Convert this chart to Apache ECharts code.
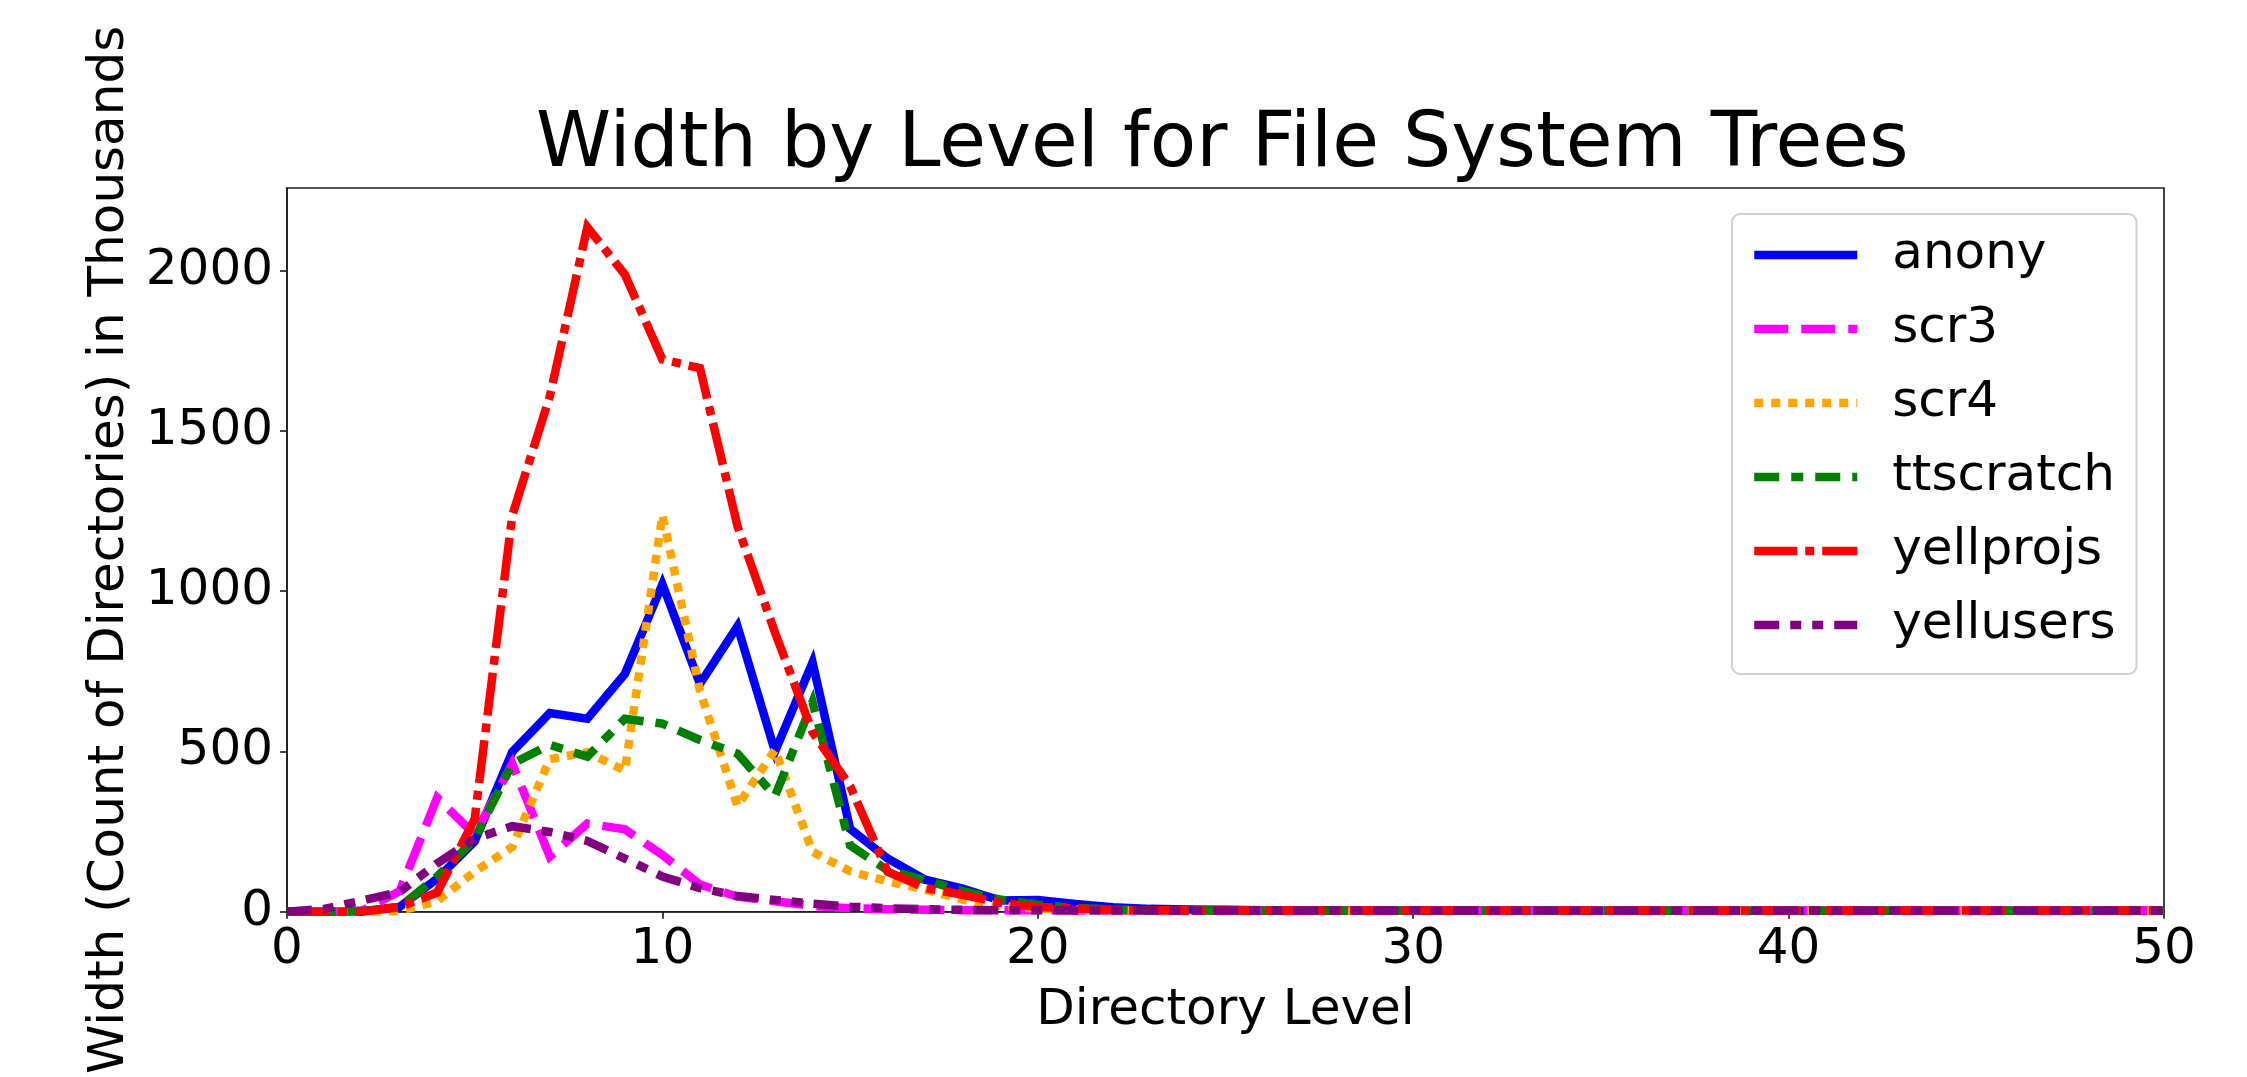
<!DOCTYPE html>
<html>
<head>
<meta charset="utf-8">
<script src="https://cdn.jsdelivr.net/npm/echarts@6/dist/echarts.min.js"></script>
<style>
html,body{margin:0;padding:0;background:#fff;}
#chart{width:2247px;height:1077px;}
</style>
</head>
<body>
<div id="chart"></div>
<script>
// Directory levels 0..50
const levels = [];
for (let i = 0; i <= 50; i++) levels.push(i);

const seriesNames = ['anony', 'scr3', 'scr4', 'ttscratch', 'yellprojs', 'yellusers'];

// Width (count of directories) in thousands, per level 0..50
const anony = [0, 0, 2, 15, 103, 220, 499, 620, 602, 742, 1022, 711, 891, 500, 778, 259, 166, 100, 72, 35, 37, 24, 14, 9, 7, 6,
  5, 5, 5, 5, 5, 4, 4, 4, 4, 4, 4, 4, 3, 3, 3, 3, 3, 3, 3, 3, 3, 3, 3, 3, 3];
const scr3 = [0, 0, 3, 64, 356, 240, 462, 172, 275, 257, 177, 85, 47, 33, 18, 11, 8, 6, 5, 5, 5, 4, 4, 4, 4, 4,
  4, 4, 4, 4, 4, 4, 4, 4, 4, 4, 4, 4, 4, 4, 4, 4, 4, 4, 4, 4, 4, 4, 4, 4, 4];
const scr4 = [0, 0, 0, 2, 33, 125, 202, 476, 498, 440, 1238, 690, 330, 505, 187, 126, 95, 69, 38, 18, 10, 7, 5, 4, 4, 3,
  3, 3, 3, 3, 3, 3, 3, 3, 3, 3, 3, 3, 3, 3, 3, 3, 3, 3, 3, 3, 3, 3, 3, 3, 3];
const ttscratch = [0, 0, 2, 15, 110, 226, 462, 521, 484, 602, 587, 536, 493, 361, 654, 207, 129, 99, 64, 38, 22, 12, 7, 5, 4, 4,
  3, 3, 3, 3, 3, 3, 3, 3, 3, 3, 3, 3, 3, 3, 3, 3, 3, 3, 3, 3, 3, 3, 3, 3, 3];
const yellprojs = [0, 0, 0, 15, 60, 290, 1236, 1608, 2136, 1988, 1723, 1696, 1203, 871, 560, 392, 125, 74, 53, 28, 15, 10, 6, 5, 4, 4,
  4, 4, 4, 4, 4, 4, 4, 4, 4, 4, 4, 4, 4, 4, 4, 4, 4, 4, 4, 4, 4, 4, 4, 4, 4];
const yellusers = [0, 9, 35, 62, 151, 228, 267, 249, 221, 166, 110, 74, 49, 37, 25, 16, 11, 8, 6, 5, 5, 4, 4, 4, 4, 4,
  4, 4, 4, 4, 4, 4, 4, 4, 4, 4, 4, 4, 4, 4, 4, 4, 4, 4, 4, 4, 4, 4, 4, 4, 4];

const xTicks = [0, 10, 20, 30, 40, 50];
const yTicks = [0, 500, 1000, 1500, 2000];

const values = [anony, scr3, scr4, ttscratch, yellprojs, yellusers];
const colors = ['#0000ff', '#ff00ff', '#ffa500', '#008000', '#ff0000', '#800080'];
const dashes = ['solid', [34, 13], [9, 8], [25, 12, 12, 12], [43, 8, 9, 8], [25, 11, 11, 11, 11, 11]];
const LW = 8.5;
const FONT = 'DejaVu Sans';

const chart = echarts.init(document.getElementById('chart'), null, {renderer: 'canvas'});

const series = seriesNames.map((name, i) => ({
  name: name,
  type: 'line',
  data: levels.map((lv, j) => [lv, values[i][j]]),
  symbol: 'none',
  showSymbol: false,
  clip: true,
  lineStyle: {color: colors[i], width: LW, type: dashes[i], cap: 'butt', join: 'miter'},
  itemStyle: {color: colors[i]},
  emphasis: {disabled: true},
  animation: false
}));

const option = {
  animation: false,
  backgroundColor: '#ffffff',
  title: {
    text: 'Width by Level for File System Trees',
    left: 536,
    top: 108,
    padding: 0,
    textStyle: {fontFamily: FONT, fontSize: 76, fontWeight: 'normal', color: '#000', lineHeight: 76}
  },
  grid: {
    left: 287, right: 83, top: 188, bottom: 156,
    show: true, borderColor: '#222', borderWidth: 1.7, backgroundColor: 'transparent'
  },
  legend: {
    orient: 'vertical',
    left: 1732,
    top: 214,
    padding: [14, 21, 22, 18],
    itemWidth: 103,
    itemHeight: 20,
    itemGap: 20,
    backgroundColor: 'rgba(255,255,255,0.8)',
    borderColor: '#d0d0d0',
    borderWidth: 2,
    borderRadius: 8,
    selectedMode: false,
    data: seriesNames.map((n, i) => ({
      name: n,
      lineStyle: {color: colors[i], width: LW, type: dashes[i], cap: 'butt'},
      itemStyle: {opacity: 0, color: 'rgba(0,0,0,0)', borderWidth: 0}
    })),
    itemStyle: {opacity: 0, color: 'rgba(0,0,0,0)', borderWidth: 0},
    lineStyle: {width: LW},
    textStyle: {fontFamily: FONT, fontSize: 50, color: '#000', lineHeight: 54, padding: [0, 0, 0, 30]}
  },
  xAxis: {
    type: 'value',
    min: 0, max: 50, interval: 10,
    name: 'Directory Level',
    nameLocation: 'middle',
    nameGap: 74,
    nameTextStyle: {fontFamily: FONT, fontSize: 50, color: '#000', lineHeight: 50},
    axisLine: {show: true, onZero: false, lineStyle: {color: '#222', width: 1.7}},
    axisTick: {show: true, inside: false, length: 7, lineStyle: {color: '#222', width: 1.7}},
    axisLabel: {
      fontFamily: FONT, fontSize: 50, color: '#000', margin: 13, lineHeight: 50,
      formatter: v => (xTicks.indexOf(v) >= 0 ? String(v) : '')
    },
    splitLine: {show: false}
  },
  yAxis: {
    type: 'value',
    min: 0, max: 2258, interval: 500,
    name: 'Width (Count of Directories) in Thousands',
    nameLocation: 'middle',
    nameRotate: 90,
    nameGap: 145,
    nameTextStyle: {fontFamily: FONT, fontSize: 50, color: '#000', lineHeight: 50},
    axisLine: {show: true, lineStyle: {color: '#222', width: 1.7}},
    axisTick: {show: true, inside: false, length: 7, lineStyle: {color: '#222', width: 1.7}},
    axisLabel: {
      fontFamily: FONT, fontSize: 50, color: '#000', margin: 14,
      showMaxLabel: false,
      formatter: v => (yTicks.indexOf(v) >= 0 ? String(v) : '')
    },
    splitLine: {show: false}
  },
  series: series
};

chart.setOption(option);
</script>
</body>
</html>
